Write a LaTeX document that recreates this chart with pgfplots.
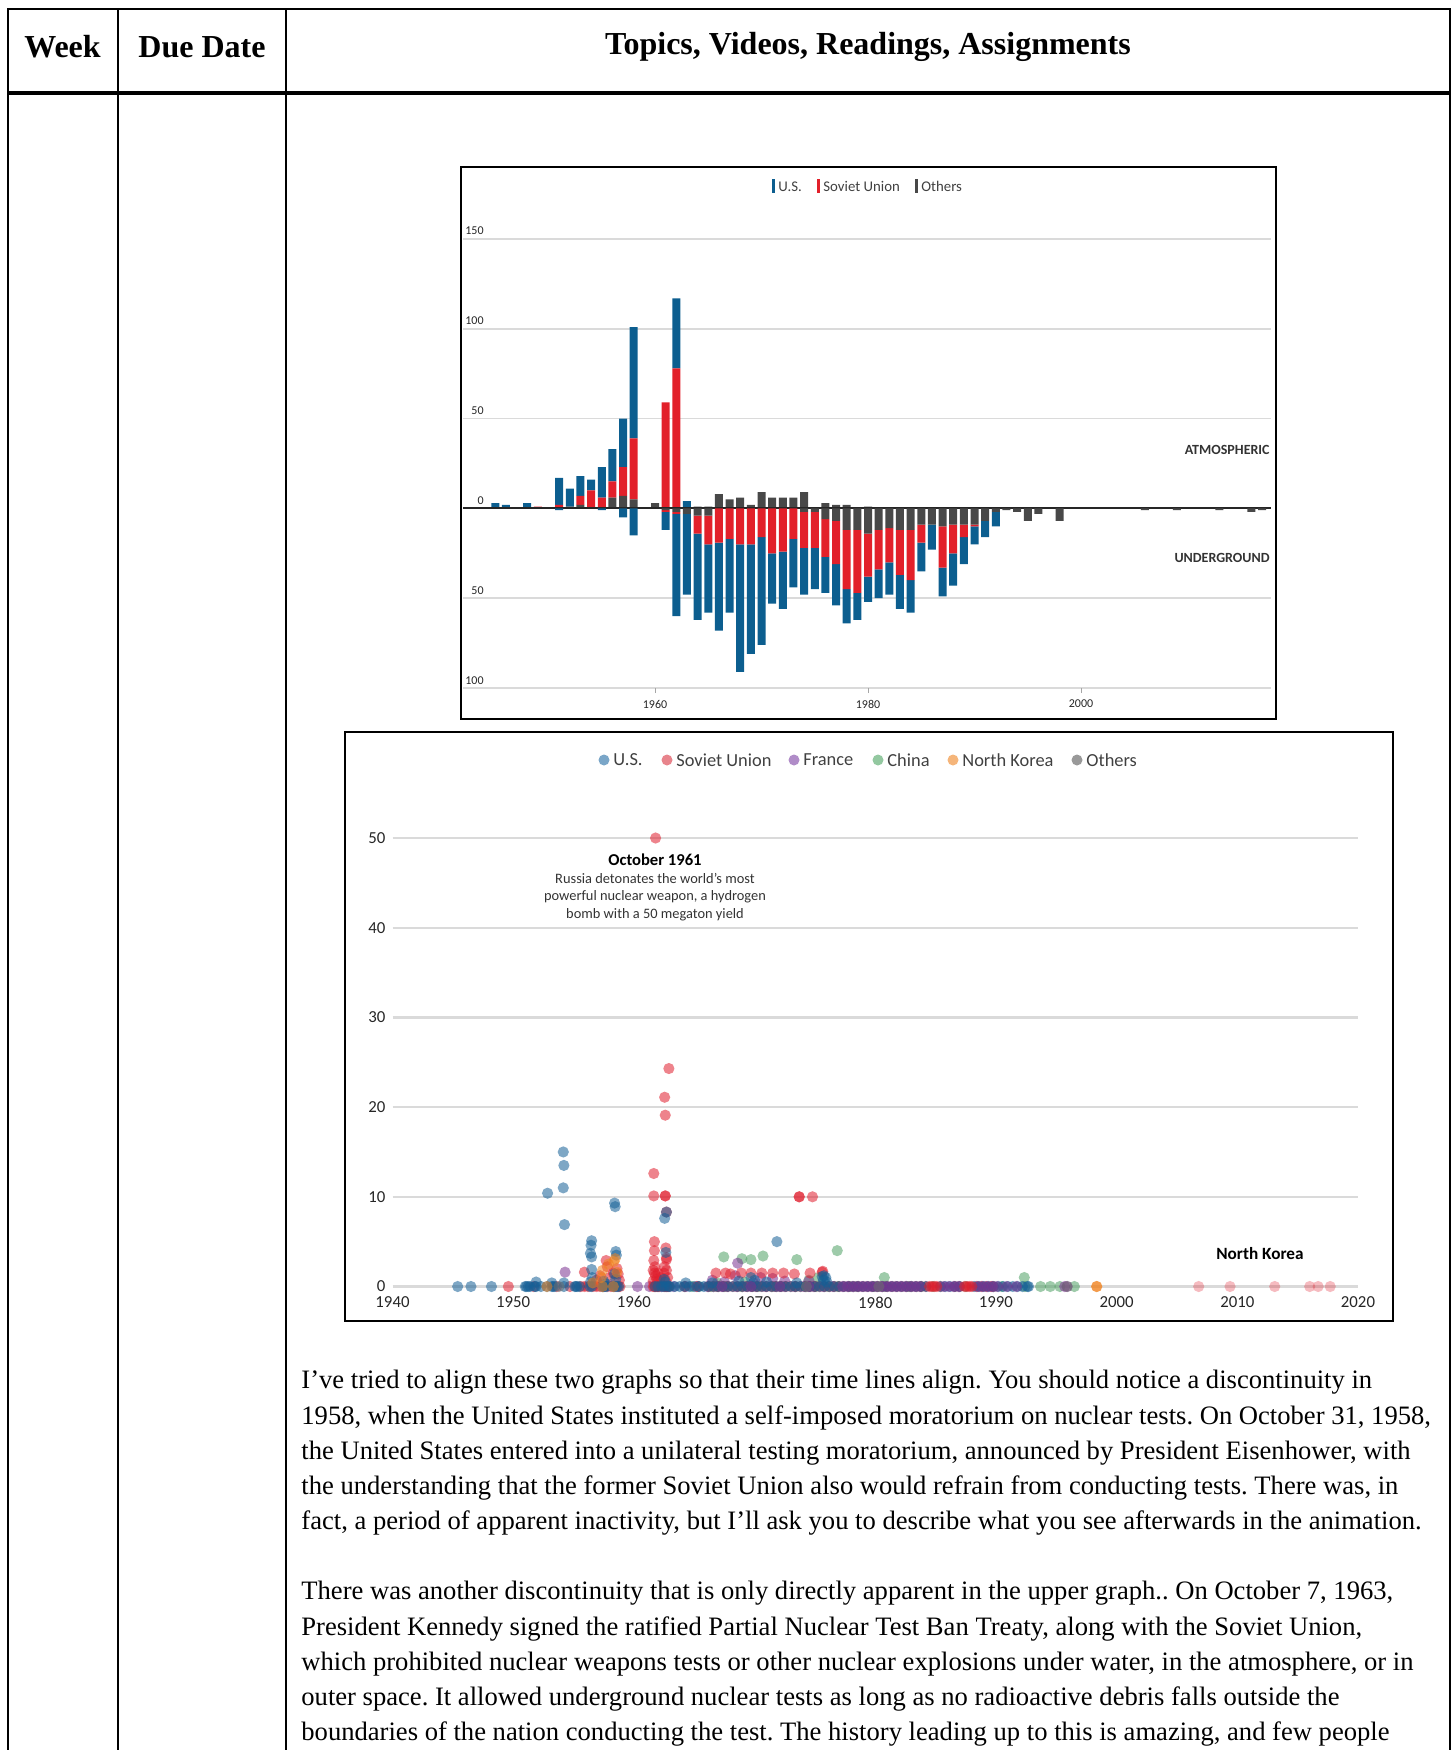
\documentclass[border=0pt]{standalone}
\usepackage{fontspec}
\setmainfont{Liberation Serif}
\newfontfamily\chartfont{Carlito}
\usepackage{pgfplots}
\pgfplotsset{compat=1.18}
\usepackage{pgfplotstable}
\frenchspacing
\definecolor{usbar}{HTML}{0C5E8F}
\definecolor{subar}{HTML}{E2202A}
\definecolor{otbar}{HTML}{484848}
\definecolor{gridgray}{HTML}{DADADA}
\definecolor{usdot}{HTML}{145F96}
\definecolor{sudot}{HTML}{E01E2D}
\definecolor{frdot}{HTML}{7A3290}
\definecolor{cndot}{HTML}{4FA064}
\definecolor{nkdot}{HTML}{F0821E}
\definecolor{otdot}{HTML}{6E6E6E}
\definecolor{uslg}{HTML}{7AA6C8}
\definecolor{sulg}{HTML}{E8848C}
\definecolor{frlg}{HTML}{B08CC8}
\definecolor{cnlg}{HTML}{93C8A0}
\definecolor{nklg}{HTML}{F5B57A}
\definecolor{otlg}{HTML}{999999}

\pgfplotstableread{
year ot su us
1945 0 0 3
1946 0 0 2
1948 0 0 3
1949 0 1 0
1951 0 2 15
1952 1 0 10
1953 2 5 11
1954 0 10 6
1955 0 6 17
1956 6 9 18
1957 7 16 27
1958 5 34 62
1960 3 0 0
1961 0 59 0
1962 0 78 39
1963 0 0 4
1964 1 0 0
1965 1 0 0
1966 8 0 0
1967 5 0 0
1968 6 0 0
1969 2 0 0
1970 9 0 0
1971 6 0 0
1972 6 0 0
1973 6 0 0
1974 9 0 0
1976 3 0 0
1977 2 0 0
1978 2 0 0
1980 1 0 0
}\atmos

\pgfplotstableread{
year ot su us
1951 0 0 -1
1955 0 0 -1
1957 0 0 -5
1958 0 0 -15
1961 -1 -1 -10
1962 -2 -1 -57
1963 -3 0 -45
1964 -4 -10 -48
1965 -4 -16 -38
1966 0 -19 -49
1967 0 -17 -41
1968 0 -20 -71
1969 0 -20 -61
1970 0 -16 -60
1971 0 -25 -28
1972 0 -24 -32
1973 0 -17 -27
1974 -2 -20 -26
1975 -2 -20 -23
1976 -6 -21 -20
1977 -7 -24 -23
1978 -12 -33 -19
1979 -12 -35 -15
1980 -14 -24 -14
1981 -12 -22 -16
1982 -11 -19 -18
1983 -12 -25 -19
1984 -12 -28 -18
1985 -9 -10 -16
1986 -9 0 -14
1987 -10 -23 -16
1988 -9 -16 -18
1989 -9 -7 -15
1990 -9 -1 -10
1991 -7 0 -9
1992 -2 0 -8
1993 -1 0 0
1994 -2 0 0
1995 -7 0 0
1996 -3 0 0
1998 -7 0 0
2006 -1 0 0
2009 -1 0 0
2013 -1 0 0
2016 -2 0 0
2017 -1 0 0
}\under

\begin{document}
\begin{tikzpicture}
\begin{scope}[x=0.5pt,y=-0.5pt]
\path[use as bounding box] (0,0) rectangle (1455,1750);
% table
\draw[line width=1.3pt] (8,1750) -- (8,9) -- (1450,9) -- (1450,1750);
\draw[line width=1.3pt] (118,9) -- (118,1750);
\draw[line width=1.3pt] (286,9) -- (286,1750);
\draw[line width=1.6pt] (8,93) -- (1450,93);
\node[font=\fontsize{16}{19}\bfseries\selectfont] at (62.5,47) {Week};
\node[font=\fontsize{16}{19}\bfseries\selectfont] at (202,47) {Due Date};
\node[font=\fontsize{16}{19}\bfseries\selectfont] at (868,47) {Topics, Videos, Readings, Assignments};
% frames
\draw[line width=1pt] (461,167) rectangle (1276,719);
\draw[line width=1pt] (345,732) rectangle (1393,1321);
\coordinate (BA) at (463,688);
\coordinate (SA) at (392.5,1286.5);
% top legend
\fill[usbar] (771.5,179) rectangle (774.5,193);
\node[anchor=west, inner sep=0pt, font=\chartfont\fontsize{7.4}{9}\selectfont, text=black!75] at (778,186.5) {U.S.};
\fill[subar] (816.5,179) rectangle (819.5,193);
\node[anchor=west, inner sep=0pt, font=\chartfont\fontsize{7.4}{9}\selectfont, text=black!75] at (823,186.5) {Soviet Union};
\fill[otbar] (914.5,179) rectangle (917.5,193);
\node[anchor=west, inner sep=0pt, font=\chartfont\fontsize{7.4}{9}\selectfont, text=black!75] at (921,186.5) {Others};
\node[anchor=east, inner sep=0pt, font=\chartfont\bfseries\fontsize{7}{8}\selectfont, text=black!80] at (1270,450) {ATMOSPHERIC};
\node[anchor=east, inner sep=0pt, font=\chartfont\bfseries\fontsize{7}{8}\selectfont, text=black!80] at (1270,558) {UNDERGROUND};
% bar chart y labels
\begin{scope}[every node/.style={anchor=south east, inner sep=0pt, font=\chartfont\fontsize{6}{7}\selectfont, text=black!85}]
\node at (484,235) {150};
\node at (484,325) {100};
\node at (484,415) {50};
\node at (484,505) {0};
\node at (484,595) {50};
\node at (484,685) {100};
\end{scope}
% bottom legend
\foreach \cx/\col/\tx in {604/uslg/U.S., 667/sulg/Soviet Union, 794/frlg/France, 878/cnlg/China, 953/nklg/North Korea, 1077/otlg/Others}{
  \fill[\col] (\cx,760) circle (5.5);
  \node[anchor=west, inner sep=0pt, font=\chartfont\fontsize{9.2}{11}\selectfont, text=black!75] at (\cx+9,760) {\tx};
}
\node[font=\chartfont\bfseries\fontsize{8.3}{10}\selectfont, inner sep=0pt] at (655,860) {October 1961};
\node[font=\chartfont\fontsize{7.2}{8}\selectfont, inner sep=0pt, text=black!80] at (655,878) {Russia detonates the world’s most};
\node[font=\chartfont\fontsize{7.2}{8}\selectfont, inner sep=0pt, text=black!80] at (655,897) {powerful nuclear weapon, a hydrogen};
\node[font=\chartfont\fontsize{7.2}{8}\selectfont, inner sep=0pt, text=black!80] at (655,915) {bomb with a 50 megaton yield};
\node[font=\chartfont\bfseries\fontsize{8.6}{10}\selectfont, inner sep=0pt] at (1260,1254) {North Korea};
% body text
\begin{scope}[every node/.style={anchor=base west, inner sep=0pt, font=\fontsize{13.3}{16}\selectfont}]
\node at (301,1388) {I’ve tried to align these two graphs so that their time lines align. You should notice a discontinuity in};
\node at (301,1424) {1958, when the United States instituted a self-imposed moratorium on nuclear tests. On October 31, 1958,};
\node at (301,1459) {the United States entered into a unilateral testing moratorium, announced by President Eisenhower, with};
\node at (301,1494) {the understanding that the former Soviet Union also would refrain from conducting tests. There was, in};
\node at (301,1529) {fact, a period of apparent inactivity, but I’ll ask you to describe what you see afterwards in the animation.};
\node at (301,1599) {There was another discontinuity that is only directly apparent in the upper graph.. On October 7, 1963,};
\node at (301,1635) {President Kennedy signed the ratified Partial Nuclear Test Ban Treaty, along with the Soviet Union,};
\node at (301,1670) {which prohibited nuclear weapons tests or other nuclear explosions under water, in the atmosphere, or in};
\node at (301,1705) {outer space. It allowed underground nuclear tests as long as no radioactive debris falls outside the};
\node at (301,1740) {boundaries of the nation conducting the test. The history leading up to this is amazing, and few people};
\end{scope}
\end{scope}

% ---------- bar chart, atmospheric ----------
\begin{axis}[at={(BA)}, anchor=south west, scale only axis,
  width=404pt, height=224.5pt,
  xmin=1941.97, xmax=2017.84, ymin=-100, ymax=150,
  ybar stacked, bar width=0.75,
  axis line style={draw=none},
  ytick={-100,-50,50,100,150}, yticklabels={}, ytick style={draw=none},
  ymajorgrids, grid style={draw=gridgray, line width=0.8pt},
  xtick={1960,1980,2000}, xtick pos=bottom, xtick style={draw=gray!70, line width=0.4pt},
  xtick align=outside, major tick length=2.5pt,
  xticklabel style={font=\chartfont\fontsize{6}{7}\selectfont, text=black!85},
  /pgf/number format/1000 sep={}, /pgf/number format/assume math mode=true,
  clip=false]
\addplot[fill=otbar, draw=none] table[x=year,y=ot]{\atmos};
\addplot[fill=subar, draw=none] table[x=year,y=su]{\atmos};
\addplot[fill=usbar, draw=none] table[x=year,y=us]{\atmos};
\end{axis}
% ---------- bar chart, underground ----------
\begin{axis}[at={(BA)}, anchor=south west, scale only axis,
  width=404pt, height=224.5pt,
  xmin=1941.97, xmax=2017.84, ymin=-100, ymax=150,
  ybar stacked, bar width=0.75, hide axis, clip=false]
\addplot[fill=otbar, draw=none] table[x=year,y=ot]{\under};
\addplot[fill=subar, draw=none] table[x=year,y=su]{\under};
\addplot[fill=usbar, draw=none] table[x=year,y=us]{\under};
\draw[black!85, line width=1pt] (axis cs:1941.97,0) -- (axis cs:2017.84,0);
\end{axis}

% ---------- scatter ----------
\begin{axis}[at={(SA)}, anchor=south west, scale only axis,
  width=482.75pt, height=224.25pt,
  xmin=1940, xmax=2020, ymin=0, ymax=50,
  ytick={0,10,20,30,40,50}, xtick={1940,1950,1960,1970,1980,1990,2000,2010,2020},
  axis line style={draw=none}, tick style={draw=none},
  ymajorgrids, grid style={draw=gridgray, line width=1.1pt},
  ticklabel style={font=\chartfont\fontsize{8.4}{10}\selectfont, text=black!85},
  xticklabel style={yshift=-1.5pt},
  /pgf/number format/1000 sep={}, /pgf/number format/assume math mode=true,
  clip=false,
  dot/.style={only marks, mark=*, mark size=2.8pt, color=#1, mark options={fill opacity=0.55, draw opacity=0}},
  ]
% China
\addplot[dot=cndot] coordinates {(1964.8,0)(1965.4,0)(1966.4,0)(1966.9,0)(1967.5,0)(1968.9,0)(1969.8,0)(1970.3,0)(1971.5,0)(1972.1,0)(1973.4,0)(1974.5,0)(1975.1,0)(1976.1,0)(1976.9,0)(1977.9,0)(1978.5,0)(1979.9,0)(1980.8,0)(1982.8,0)(1983.8,0)(1984.8,0)(1987.5,0)(1990.5,0)(1992.4,0)(1993.7,0)(1994.5,0)(1995.3,0)(1996.5,0)
(1967.45,3.3)(1968.95,3.1)(1969.7,3.0)(1970.7,3.4)(1973.5,3.0)(1976.85,4.0)(1980.75,1.0)(1992.35,1.0)(1974.5,0.7)(1975.3,1.0)(1969.2,0.5)(1966.9,0.4)};
% France (under)
\addplot[dot=frdot] coordinates {(1960.3,0)(1961.3,0)(1962.3,0)(1963.3,0)(1964.3,0)(1965.3,0)
(1966.1,0)(1966.9,0)(1967.7,0)(1968.5,0)(1969.3,0)(1970.1,0)(1970.9,0)(1971.7,0)(1972.5,0)(1973.3,0)(1974.1,0)(1974.9,0)(1975.7,0)(1976.5,0)
(1968.6,2.6)(1968.4,1.2)(1970.5,1.0)(1971.5,0.9)(1966.5,0.7)(1972.5,0.6)(1974.5,0.6)(1967.5,0.5)(1969.9,0.4)(1954.3,1.6)};
% Soviet Union
\addplot[dot=sudot] coordinates {(1949.6,0)(1951.7,0)(1953.6,0)(1954.7,0)(1955.6,0)(1955.9,0)(1956.2,0)(1956.6,0)(1956.9,0)(1957.2,0)(1957.5,0)(1957.8,0)(1958.1,0)(1958.4,0)(1958.7,0)(1958.85,0)(1961.6,0)(1961.7,0)(1961.8,0)(1961.9,0)(1962.0,0)(1962.1,0)(1962.5,0)(1962.6,0)(1962.7,0)(1962.8,0)(1962.9,0)
(1964.2,0)(1965.2,0)(1966.2,0)(1966.6,0)(1967.0,0)(1967.4,0)(1967.8,0)(1968.2,0)(1968.6,0)(1969.0,0)(1969.4,0)(1969.8,0)(1970.2,0)(1970.6,0)(1971.0,0)(1971.4,0)(1971.8,0)(1972.2,0)(1972.6,0)(1973.0,0)(1973.4,0)(1973.8,0)(1974.2,0)(1974.6,0)(1975.0,0)(1975.4,0)(1975.8,0)(1976.2,0)(1976.6,0)(1977.0,0)(1977.4,0)(1977.8,0)(1978.2,0)(1978.6,0)(1979.0,0)(1979.4,0)(1979.8,0)(1980.2,0)(1980.6,0)(1981.0,0)(1981.4,0)(1981.8,0)(1982.2,0)(1982.6,0)(1983.0,0)(1983.4,0)(1983.8,0)(1984.2,0)(1985.4,0)(1986.6,0)(1987.0,0)(1988.4,0)(1988.8,0)(1989.2,0)(1989.6,0)(1989.8,0)
(1961.8,50)(1961.65,12.6)(1961.65,10.1)(1962.6,10.1)(1962.6,10.1)(1962.55,21.1)(1962.6,19.1)(1962.9,24.3)(1961.7,5.0)(1961.7,4.0)(1961.65,2.9)(1962.65,4.3)(1962.7,3.2)(1962.7,3.0)(1962.55,2.2)(1962.7,8.3)
(1961.6,1.8)(1961.7,1.5)(1961.8,1.2)(1961.9,0.8)(1962.0,1.5)(1961.6,0.6)(1962.5,1.5)(1962.7,1.8)(1962.8,1.0)(1962.6,0.7)(1961.75,2.2)(1962.0,0.6)(1962.2,1.0)
(1955.9,1.6)(1957.7,2.9)(1957.8,2.2)(1958.0,1.0)(1958.7,1.4)(1958.8,0.7)(1956.9,0.7)(1957.2,1.2)(1958.3,1.5)(1958.6,2.0)
(1966.8,1.5)(1967.6,1.5)(1968.0,1.4)(1968.9,1.5)(1969.7,1.5)(1970.6,1.5)(1971.5,1.5)(1972.4,1.5)(1973.3,1.4)(1974.6,1.5)(1975.6,1.6)(1975.65,1.7)
(1973.7,10)(1973.7,10)(1974.8,10)};
% U.S.
\addplot[dot=usdot] coordinates {(1945.4,0)(1946.5,0)(1948.2,0)(1951.0,0)(1951.1,0)(1951.25,0)(1951.4,0)(1951.8,0)(1951.9,0)(1952.3,0)(1952.8,0)(1953.2,0)(1953.3,0)(1953.45,0)(1954.2,0)(1955.1,0)(1955.2,0)(1955.3,0)(1955.5,0)(1956.35,0)(1956.5,0)(1957.4,0)(1957.5,0)(1957.6,0)(1957.75,0)(1958.3,0)(1958.45,0)(1958.6,0)(1958.75,0)(1961.75,0)(1962.0,0)(1962.3,0)(1962.5,0)(1962.7,0)(1962.9,0)
(1963.0,0)(1963.4,0)(1963.8,0)(1964.2,0)(1964.6,0)(1965.0,0)(1965.4,0)(1965.8,0)(1966.2,0)(1966.6,0)(1967.0,0)(1967.4,0)(1967.8,0)(1968.2,0)(1968.6,0)(1969.0,0)(1969.4,0)(1969.8,0)(1970.2,0)(1970.6,0)(1971.0,0)(1971.4,0)(1971.8,0)(1972.2,0)(1972.6,0)(1973.0,0)(1973.4,0)(1973.8,0)(1974.2,0)(1974.6,0)(1975.0,0)(1975.4,0)(1975.8,0)(1976.2,0)(1976.6,0)(1977.0,0)(1977.4,0)(1977.8,0)(1978.2,0)(1978.6,0)(1979.0,0)(1979.4,0)(1979.8,0)(1980.2,0)(1980.6,0)(1981.0,0)(1981.4,0)(1981.8,0)(1982.2,0)(1982.6,0)(1983.0,0)(1983.4,0)(1983.8,0)(1984.2,0)(1985.4,0)(1985.8,0)(1986.2,0)(1986.6,0)(1987.0,0)(1988.2,0)(1988.6,0)(1989.0,0)(1989.4,0)(1989.8,0)(1990.2,0)(1990.6,0)(1991.0,0)(1991.4,0)(1991.8,0)(1992.2,0)(1992.6,0)(1992.7,0)
(1952.85,10.4)(1954.15,15.0)(1954.2,13.5)(1954.15,11.0)(1954.25,6.9)(1954.2,0.4)(1953.2,0.4)(1951.9,0.5)
(1956.5,5.1)(1956.45,4.6)(1956.4,3.7)(1956.5,3.3)(1956.5,1.9)(1956.55,1.0)(1956.4,0.5)
(1958.4,9.3)(1958.45,8.9)(1958.5,3.9)(1958.55,3.5)(1958.4,1.4)(1958.5,0.8)(1957.5,0.6)(1957.7,0.3)
(1962.55,7.6)(1962.7,8.3)(1962.5,0.8)(1962.6,0.5)(1962.65,3.8)
(1971.85,5.0)(1975.6,1.1)(1975.75,1.2)(1975.9,1.0)(1975.7,0.7)(1976.0,0.5)
(1969.7,1.0)(1970.0,0.7)(1968.7,0.6)(1964.3,0.4)(1966.5,0.4)(1971,0.5)(1973.5,0.4)};
% France (over, later years)
\addplot[dot=frdot] coordinates {(1967.3,0)(1969.7,0)(1972.1,0)(1974.5,0)(1977.3,0)(1977.7,0)(1978.1,0)(1978.5,0)(1978.9,0)(1979.3,0)(1979.7,0)(1980.1,0)(1980.5,0)(1980.9,0)(1981.3,0)(1981.7,0)(1982.1,0)(1982.5,0)(1982.9,0)(1983.3,0)(1983.7,0)(1985.7,0)(1986.1,0)(1986.5,0)(1986.9,0)(1988.5,0)(1988.9,0)(1989.3,0)(1989.7,0)(1990.1,0)(1990.9,0)(1991.7,0)(1995.7,0)(1995.9,0)};
% vivid red spots in the band
\addplot[dot=sudot] coordinates {(1984.5,0)(1984.7,0)(1984.9,0)(1985.1,0)(1987.4,0)(1987.6,0)(1987.8,0)(1988.0,0)};
% orange
\addplot[dot=nkdot] coordinates {(1957.4,1.8)(1957.9,2.5)(1958.35,2.8)(1958.45,3.1)(1957.3,1.0)(1958.6,1.6)(1956.6,0.4)(1952.8,0)(1957.4,0)(1958.3,0)(1998.35,0)(1998.35,0)};
% others
\addplot[dot=otdot] coordinates {(1995.9,0)(1953.8,0)(1974.3,0)(1980.3,0)};
% pale (2006-2017)
\addplot[only marks, mark=*, mark size=2.8pt, color=sudot, mark options={fill opacity=0.3, draw opacity=0}] coordinates {(2006.8,0)(2009.4,0)(2013.1,0)(2016.0,0)(2016.7,0)(2017.7,0)};
\end{axis}
\end{tikzpicture}
\end{document}
